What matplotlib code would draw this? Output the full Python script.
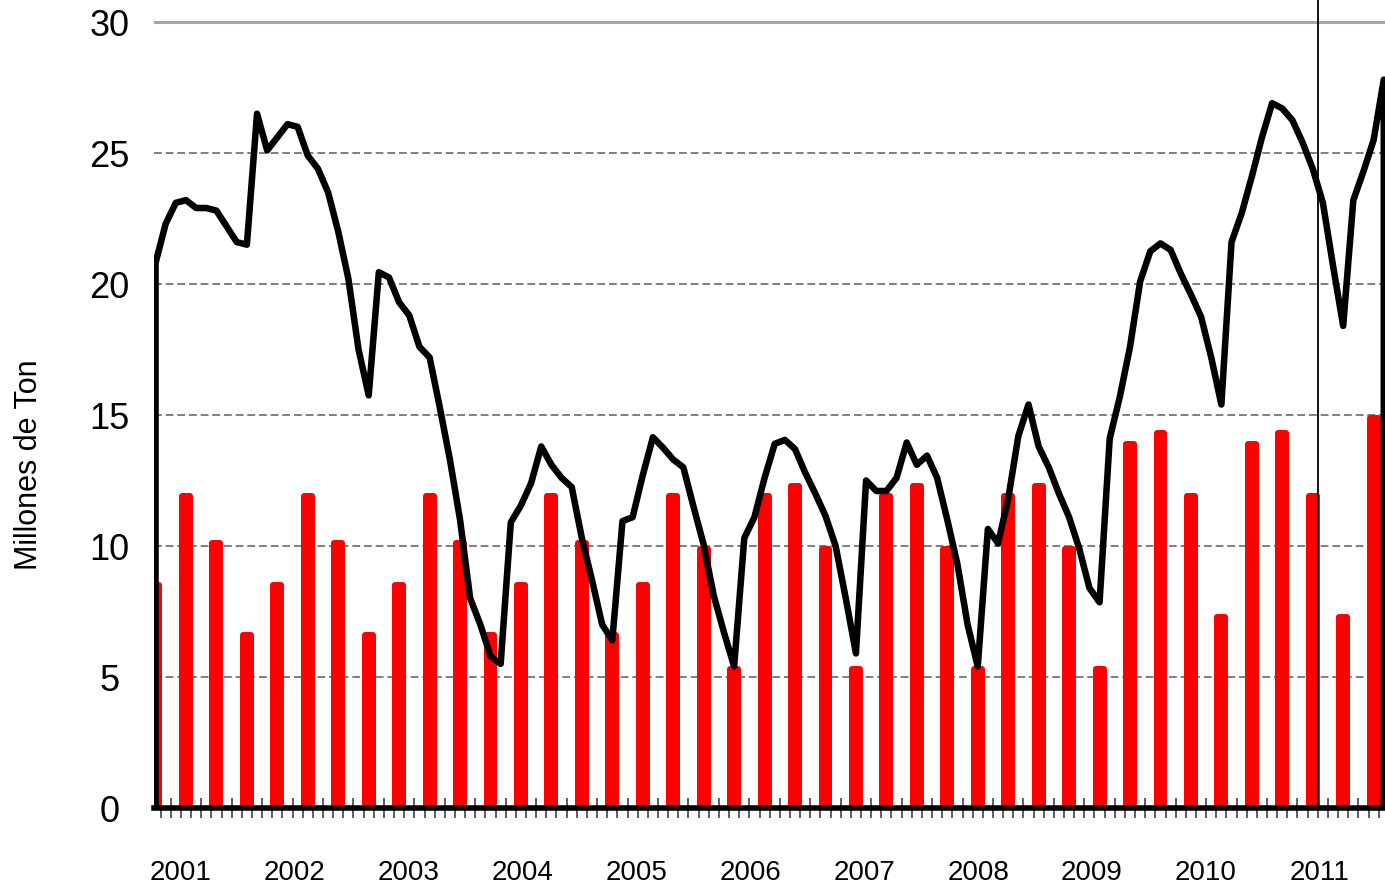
import numpy as np
import matplotlib.pyplot as plt

# serie mensual (linea negra), millones de toneladas, desde ene-2001
stock = [20.8, 22.3, 23.1, 23.2, 22.9, 22.9, 22.8, 22.2, 21.6, 21.5,
         26.5, 25.1, 25.6, 26.1, 26.0, 24.9, 24.4, 23.5, 22.0, 20.2,
         17.5, 15.75, 20.45, 20.25, 19.3, 18.8, 17.6, 17.2, 15.3, 13.3,
         11.0, 8.0, 7.0, 5.8, 5.5, 10.9, 11.55, 12.4, 13.8, 13.1,
         12.6, 12.25, 10.3, 8.7, 7.0, 6.4, 10.95, 11.1, 12.7, 14.15,
         13.75, 13.3, 13.0, 11.5, 10.05, 8.1, 6.7, 5.4, 10.3, 11.1,
         12.6, 13.9, 14.05, 13.7, 12.8, 12.0, 11.15, 10.0, 8.0, 5.9,
         12.5, 12.1, 12.1, 12.6, 13.95, 13.1, 13.45, 12.6, 11.0, 9.3,
         7.0, 5.4, 10.65, 10.1, 11.8, 14.2, 15.4, 13.8, 13.0, 12.0,
         11.1, 9.9, 8.4, 7.85, 14.1, 15.7, 17.6, 20.1, 21.25, 21.55,
         21.3, 20.4, 19.6, 18.75, 17.2, 15.4, 21.6, 22.7, 24.1, 25.6,
         26.9, 26.7, 26.25, 25.4, 24.4, 23.1, 20.7, 18.4, 23.2, 24.3,
         25.5, 27.8]

# barras trimestrales (rojas)
barras = [8.5, 11.9, 10.1, 6.6, 8.5, 11.9, 10.1, 6.6, 8.5, 11.9,
          10.1, 6.6, 8.5, 11.9, 10.1, 6.6, 8.5, 11.9, 9.9, 5.3,
          11.9, 12.3, 9.9, 5.3, 11.9, 12.3, 9.9, 5.3, 11.9, 12.3,
          9.9, 5.3, 13.9, 14.3, 11.9, 7.3, 13.9, 14.3, 11.9, 7.3,
          14.9]

anios = ["2001", "2002", "2003", "2004", "2005", "2006",
         "2007", "2008", "2009", "2010", "2011"]
yticks = [0, 5, 10, 15, 20, 25, 30]

plt.rcParams['font.family'] = ['Liberation Sans', 'DejaVu Sans']

fig = plt.figure(figsize=(13.85, 8.89), dpi=100)
ax = fig.add_axes([154 / 1385, 81 / 889, 1 - 154 / 1385, 1 - 81 / 889])

meses = np.arange(len(stock))
xb = np.arange(len(barras)) * 3

# lineas de division
for v in yticks[1:-1]:
    ax.axhline(v, color='#7f7f7f', lw=1.4, ls=(0, (4, 2)), zorder=1)
ax.axhline(30, color='#a6a6a6', lw=2.2, zorder=1)

# barras con esquinas redondeadas (borde del mismo color)
ax.bar(xb, barras, width=0.78, color='#ff0000', edgecolor='#ff0000',
       linewidth=4.3, joinstyle='round', zorder=2)

# la linea cae a cero en ambos extremos
xl = np.concatenate([[meses[0]], meses, [meses[-1]]])
yl = np.concatenate([[0], stock, [0]])
ax.plot(xl, yl, color='black', lw=4.7, solid_joinstyle='round', zorder=3)

ax.axvline(114.5, color='black', lw=1.3, zorder=4)

ax.set_xlim(-0.15, 121.12)
ax.set_ylim(0, 30.84)

for s in ['top', 'right', 'left']:
    ax.spines[s].set_visible(False)
ax.spines['bottom'].set_linewidth(4)
ax.spines['bottom'].set_zorder(5)

ax.set_xticks(np.arange(0, 121) + 0.5)
ax.set_xticklabels([])
ax.tick_params(axis='x', direction='inout', length=15, width=1.1, color='#333333')

ax.set_yticks(yticks)
ax.set_yticklabels([str(v) for v in yticks], fontsize=26, ha='center')
ax.tick_params(axis='y', length=0, pad=32)

pos_anios = np.linspace(2.5, 114.7, len(anios))
for p, a in zip(pos_anios, anios):
    ax.text(p, -0.08, a, transform=ax.get_xaxis_transform(),
            ha='center', va='center', fontsize=20)

fig.text(29 / 1385, 1 - 465 / 889, "Millones de Ton", rotation=90,
         ha='center', va='center', fontsize=22)

plt.savefig("out.png")
